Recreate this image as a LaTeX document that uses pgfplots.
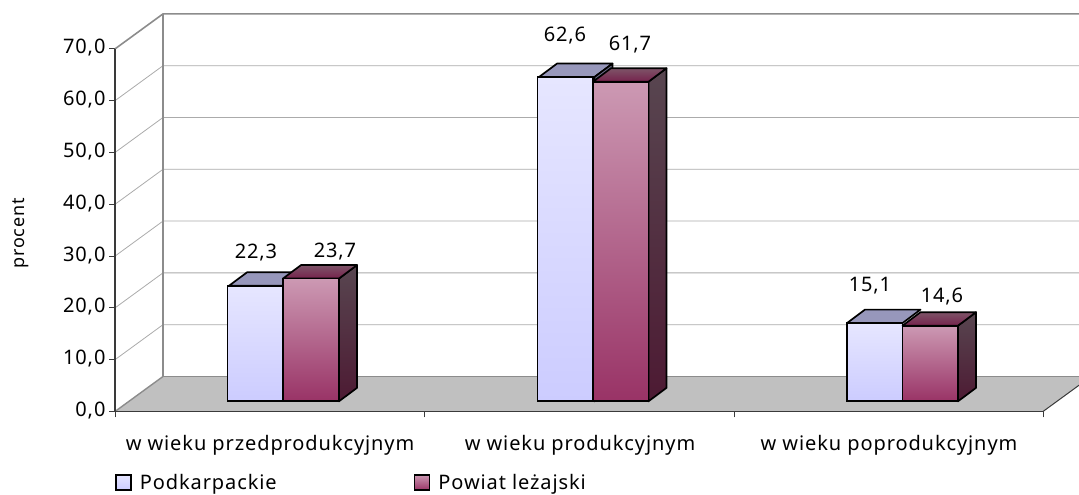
\documentclass[border=0pt]{standalone}
\usepackage{fontspec}
\setmainfont[LetterSpace=4.5]{Noto Sans}
\usepackage{pgfplots}
\pgfplotsset{compat=1.18}
\definecolor{floorc}{HTML}{C0C0C0}
\definecolor{gridc}{HTML}{ABABAB}
\definecolor{wallc}{HTML}{8C8C8C}
\definecolor{axisc}{HTML}{3A3A3A}
\definecolor{aT}{HTML}{E6E6FF}
\definecolor{aB}{HTML}{CCCCFF}
\definecolor{bT}{HTML}{CC99B3}
\definecolor{bB}{HTML}{993366}
\definecolor{aTop}{HTML}{9797BB}
\definecolor{aSide}{HTML}{6E6E8C}
\definecolor{bTopB}{HTML}{7D5468}
\definecolor{bTopF}{HTML}{76224C}
\definecolor{bSideT}{HTML}{584650}
\definecolor{bSideB}{HTML}{4D1A33}
\pgfplotsset{
  face/.style={forget plot,draw=black,line width=1.7pt,line join=round},
  barA/.style={ybar,bar width=55.5,bar shift=-27.75,draw=black,line width=1.7pt,top color=aT,bottom color=aB},
  barB/.style={ybar,bar width=55.5,bar shift=27.75,draw=black,line width=1.7pt,top color=bT,bottom color=bB},
  swatch/.style={legend image code/.code={\path[##1,line width=1.7pt] (0pt,-12.5pt) rectangle (15pt,3pt);}},
}
\begin{document}
\begin{tikzpicture}[x=1pt,y=1pt]
\useasboundingbox (0,0) rectangle (1079,495);
\begin{axis}[
  at={(115pt,83.5pt)},anchor=south west,
  scale only axis,width=964pt,height=397.6pt,
  xmin=115,xmax=1079,ymin=0,ymax=76.76,
  clip=false,
  axis line style={draw=none},
  font=\fontsize{20}{23}\selectfont,
  /pgf/number format/assume math mode=true,
  tick align=outside,xtick pos=bottom,ytick pos=left,
  major tick length=6pt,minor tick length=6pt,
  tick style={draw=axisc,line width=0.9pt},
  major x tick style={draw=none},
  xtick={270,580,889},
  xticklabels={w wieku przedprodukcyjnym,w wieku produkcyjnym,w wieku poprodukcyjnym},
  minor xtick={115,424,734,1043},
  xticklabel style={yshift=-14.5pt},
  ytick={0,10,...,70},
  yticklabel style={yshift=1pt,/pgf/number format/.cd,fixed,fixed zerofill,precision=1,use comma},
  ylabel={procent},
  every axis y label/.style={at={(axis description cs:-0.0975,0.4477)},rotate=90,anchor=center,font=\fontsize{18}{21}\selectfont},
  legend style={at={(axis description cs:-0.001,-0.1504)},anchor=north west,draw=none,fill=none,legend columns=2,
    font=\fontsize{20}{23}\selectfont,inner sep=1pt,
    /tikz/every odd column/.append style={column sep=6pt},
    /tikz/every even column/.append style={column sep=135pt}},
  legend cell align=left,
]
% walls and floor
\addplot[forget plot,draw=none,fill=floorc] coordinates {(115,0)(163,6.76)(1079,6.76)(1079,5.07)(1043,0)} -- cycle;
\addplot[forget plot,gridc,line width=0.8pt] coordinates {(115,10)(163,16.76)(1079,16.76)};
\addplot[forget plot,gridc,line width=0.8pt] coordinates {(115,20)(163,26.76)(1079,26.76)};
\addplot[forget plot,gridc,line width=0.8pt] coordinates {(115,30)(163,36.76)(1079,36.76)};
\addplot[forget plot,gridc,line width=0.8pt] coordinates {(115,40)(163,46.76)(1079,46.76)};
\addplot[forget plot,gridc,line width=0.8pt] coordinates {(115,50)(163,56.76)(1079,56.76)};
\addplot[forget plot,gridc,line width=0.8pt] coordinates {(115,60)(163,66.76)(1079,66.76)};
\addplot[forget plot,wallc,line width=1.6pt] coordinates {(115,70)(163,76.76)(1079,76.76)};
\addplot[forget plot,wallc,line width=1.6pt] coordinates {(163,76.76)(163,6.76)(1079,6.76)};
\addplot[forget plot,wallc,line width=1.4pt] coordinates {(115,0)(163,6.76)};
\addplot[forget plot,axisc,line width=1pt] coordinates {(1043,0)(1079,5.07)};
\addplot[forget plot,axisc,line width=1.4pt] coordinates {(115,70)(115,0)(1043,0)};
\begin{scope}[yshift=5.1pt]
% Podkarpackie tops and sides
\addplot[face,fill=aTop] coordinates {(229,22.3)(284.5,22.3)(302.5,24.9)(247,24.9)} -- cycle;
\addplot[face,fill=aTop] coordinates {(539,62.6)(594.5,62.6)(612.5,65.2)(557,65.2)} -- cycle;
\addplot[face,fill=aTop] coordinates {(847,15.1)(902.5,15.1)(920.5,17.7)(865,17.7)} -- cycle;
\addplot[face,fill=aSide] coordinates {(594.5,62.6)(612.5,65.2)(612.5,2.6)(594.5,0)} -- cycle;
% Podkarpackie fronts
\addplot[barA,swatch] coordinates {(283,22.3)};
\addlegendentry{Podkarpackie}
\addplot[barA,forget plot] coordinates {(593,62.6)};
\addplot[barA,forget plot] coordinates {(902.5,15.1)};
% Powiat sides and tops
\addplot[face,top color=bSideT,bottom color=bSideB] coordinates {(339,0)(357,2.6)(357,26.3)(339,23.7)} -- cycle;
\addplot[face,top color=bSideT,bottom color=bSideB] coordinates {(648.5,0)(666.5,2.6)(666.5,64.3)(648.5,61.7)} -- cycle;
\addplot[face,top color=bSideT,bottom color=bSideB] coordinates {(958,0)(976,2.6)(976,17.2)(958,14.6)} -- cycle;
\addplot[face,top color=bTopB,bottom color=bTopF] coordinates {(283,23.7)(339,23.7)(357,26.3)(301,26.3)} -- cycle;
\addplot[face,top color=bTopB,bottom color=bTopF] coordinates {(593,61.7)(648.5,61.7)(666.5,64.3)(611,64.3)} -- cycle;
\addplot[face,top color=bTopB,bottom color=bTopF] coordinates {(902.5,14.6)(958,14.6)(976,17.2)(920.5,17.2)} -- cycle;
% Powiat fronts
\addplot[barB,swatch] coordinates {(283,23.7)};
\addlegendentry{Powiat leżajski}
\addplot[barB,forget plot] coordinates {(593,61.7)};
\addplot[barB,forget plot] coordinates {(902.5,14.6)};
\end{scope}
\node at (axis cs:256,30.6) {22,3};
\node at (axis cs:335,30.8) {23,7};
\node at (axis cs:565,72.6) {62,6};
\node at (axis cs:630,70.8) {61,7};
\node at (axis cs:870,24.3) {15,1};
\node at (axis cs:942,22.2) {14,6};
\end{axis}
\end{tikzpicture}
\end{document}
